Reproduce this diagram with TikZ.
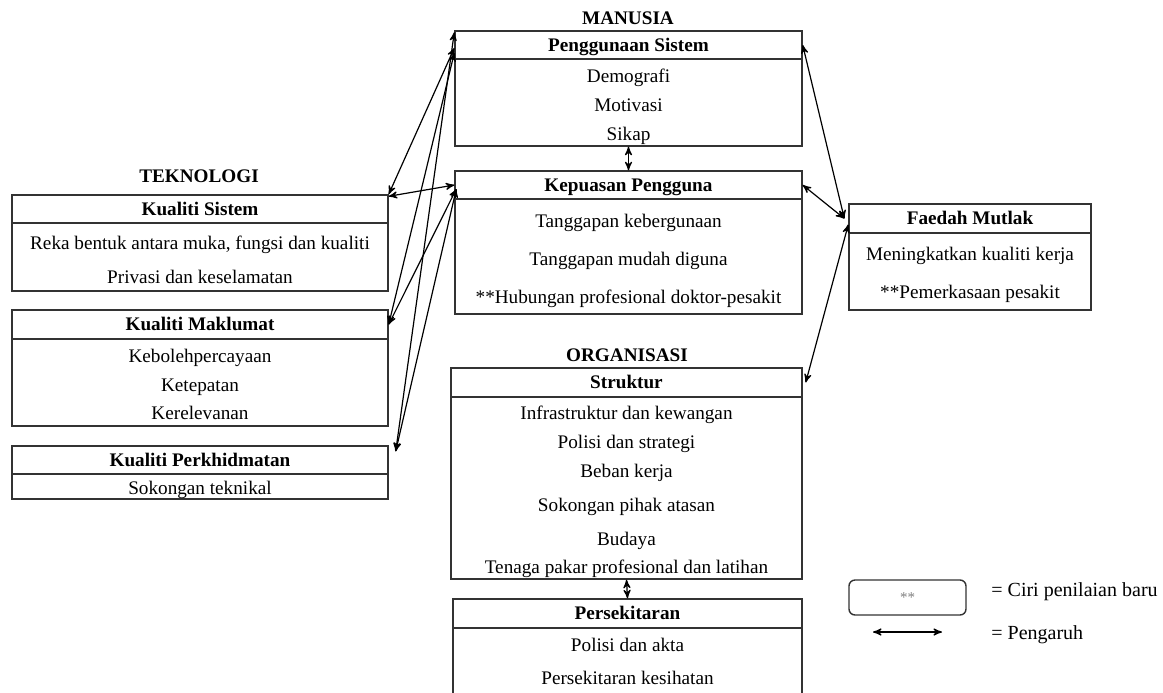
\documentclass[tikz,border=0pt]{standalone}
\usepackage{fontspec}
\setmainfont{Liberation Serif}
\usetikzlibrary{arrows,positioning}

\begin{document}
\fontsize{9.6}{11.5}\selectfont
\begin{tikzpicture}[->,>=stealth',x=0.5pt,y=-0.5pt,
	hdr/.style={draw=black!80,line width=0.7pt,inner sep=0pt,minimum height=14.5pt,text height=0.66em,text depth=0pt,font=\bfseries},
	body/.style={draw=black!80,line width=0.7pt,inner sep=0pt},
	item/.style={anchor=base,inner sep=0pt},
	title/.style={inner sep=0pt,text height=0.66em,text depth=0pt,font=\bfseries}]

	\useasboundingbox (0,0) rectangle (1163,692);
	\clip (0,0) rectangle (1163,692);

	% Teknologi
	\node [title] at (199,176) (tek) {TEKNOLOGI};
	\node [hdr,minimum width=188pt,minimum height=14pt] at (200,209) (sistemH) {Kualiti Sistem};
	\node [body,minimum width=188pt,minimum height=34pt] at (200,257) (sistemB) {};
	\node [item] at (200,249) (sis1) {Reka bentuk antara muka, fungsi dan kualiti};
	\node [item] at (200,283) (sis2) {Privasi dan keselamatan};

	\node [hdr,minimum width=188pt] at (200,324.5) (maklumatH) {Kualiti Maklumat};
	\node [body,minimum width=188pt,minimum height=43.5pt] at (200,382.5) (maklumatB) {};
	\node [item] at (200,362) (mak1) {Kebolehpercayaan};
	\node [item] at (200,391) (mak2) {Ketepatan};
	\node [item] at (200,419) (mak3) {Kerelevanan};

	\node [hdr,minimum width=188pt,minimum height=14pt] at (200,460) (perkhH) {Kualiti Perkhidmatan};
	\node [body,minimum width=188pt,minimum height=12.5pt] at (200,486.5) (perkhB) {};
	\node [item] at (200,494) (per1) {Sokongan teknikal};

	% Manusia
	\node [title] at (628,18) (man) {MANUSIA};
	\node [hdr,minimum width=173.5pt,minimum height=14pt] at (628.5,45) (gunaH) {Penggunaan Sistem};
	\node [body,minimum width=173.5pt,minimum height=43.5pt] at (628.5,102.5) (gunaB) {};
	\node [item] at (628.5,82) (gun1) {Demografi};
	\node [item] at (628.5,111) (gun2) {Motivasi};
	\node [item] at (628.5,140) (gun3) {Sikap};

	\node [hdr,minimum width=173.5pt,minimum height=14pt] at (628.5,185) (kepuasanH) {Kepuasan Pengguna};
	\node [body,minimum width=173.5pt,minimum height=57.5pt] at (628.5,256.5) (kepuasanB) {};
	\node [item] at (628.5,227) (kep1) {Tanggapan kebergunaan};
	\node [item] at (628.5,265) (kep2) {Tanggapan mudah diguna};
	\node [item] at (628.5,303) (kep3) {**Hubungan profesional doktor-pesakit};

	% Organisasi
	\node [title] at (627,355.5) (org) {ORGANISASI};
	\node [hdr,minimum width=175.5pt] at (626.5,382.5) (strukturH) {Struktur};
	\node [body,minimum width=175.5pt,minimum height=91pt] at (626.5,488) (strukturB) {};
	\node [item] at (626.5,419) (str1) {Infrastruktur dan kewangan};
	\node [item] at (626.5,448) (str2) {Polisi dan strategi};
	\node [item] at (626.5,477) (str3) {Beban kerja};
	\node [item] at (626.5,511) (str4) {Sokongan pihak atasan};
	\node [item] at (626.5,545) (str5) {Budaya};
	\node [item] at (626.5,573) (str6) {Tenaga pakar profesional dan latihan};

	\node [hdr,minimum width=174.5pt] at (627.5,613.5) (persekH) {Persekitaran};
	\node [body,minimum width=174.5pt,minimum height=46pt] at (627.5,674) (persekB) {};
	\node [item] at (627.5,651) (pse1) {Polisi dan akta};
	\node [item] at (627.5,684) (pse2) {Persekitaran kesihatan};

	% Faedah
	\node [hdr,minimum width=121pt] at (970,218.5) (faedahH) {Faedah Mutlak};
	\node [body,minimum width=121pt,minimum height=38.5pt] at (970,271.5) (faedahB) {};
	\node [item] at (970,260) (fae1) {Meningkatkan kualiti kerja};
	\node [item] at (970,298) (fae2) {**Pemerkasaan pesakit};

	% Legend
	\node [body,rounded corners=3pt,minimum width=58.5pt,minimum height=17.5pt,font=\fontsize{7.5}{9}\selectfont,text=black!50] at (907.5,597.5) (legbox) {**};
	\node [item,anchor=base west,font=\fontsize{10}{12}\selectfont] at (991,596) (legtxt1) {= Ciri penilaian baru};
	\node [item,anchor=base west,font=\fontsize{10}{12}\selectfont] at (991,639) (legtxt2) {= Pengaruh};
	\coordinate (legA) at (873,632);
	\coordinate (legB) at (942,632);

	% Hubungan
	\path[<->,line width=0.6pt]
	([yshift=-1.5pt]gunaH.west) edge (sistemH.north east)
	([yshift=-4pt]gunaH.west) edge (maklumatH.east)
	([yshift=-1pt]gunaH.north west) edge ([xshift=3.5pt,yshift=-3pt]perkhH.north east)
	(kepuasanH.west) edge ([yshift=-1pt]sistemH.north east)
	([xshift=1pt,yshift=-2pt]kepuasanH.west) edge (maklumatH.east)
	([xshift=1pt,yshift=-2pt]kepuasanH.west) edge ([xshift=3.5pt,yshift=-3pt]perkhH.north east)
	(gunaH.east) edge ([xshift=-2pt]faedahH.west)
	(kepuasanH.east) edge ([xshift=-2pt]faedahH.west)
	([xshift=1.5pt]strukturH.east) edge ([yshift=-3pt]faedahH.west)
	(gunaB.south) edge (kepuasanH.north)
	(strukturB.south) edge (persekH.north)
	(legA) edge (legB)
	;

\end{tikzpicture}
\end{document}
